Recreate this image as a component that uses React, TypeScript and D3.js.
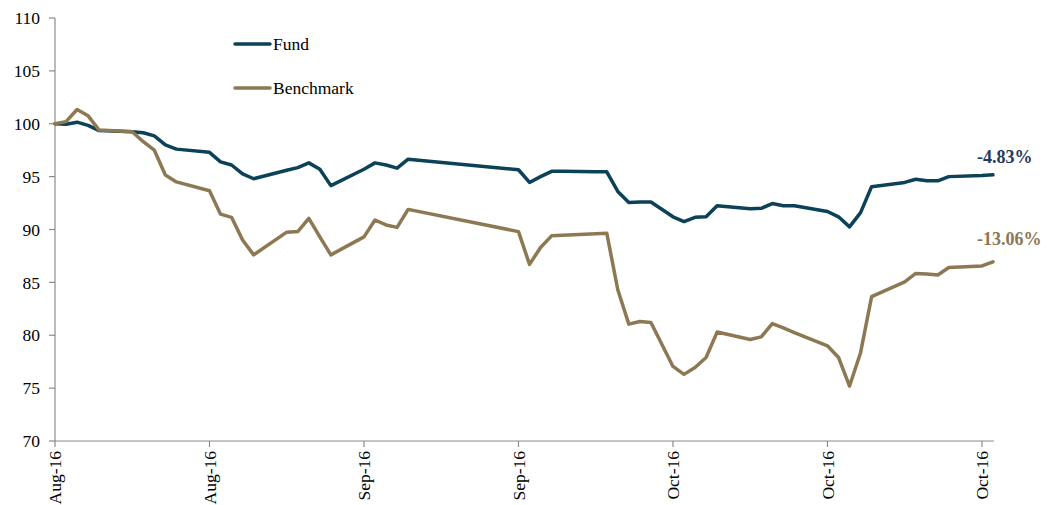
import React from "react";
import * as d3 from "d3";

// trading dates (Aug 8 2016 onward)
const dates = [
  "2016-08-08", "2016-08-09", "2016-08-10", "2016-08-11", "2016-08-12",
  "2016-08-15", "2016-08-16", "2016-08-17", "2016-08-18", "2016-08-19",
  "2016-08-22", "2016-08-23", "2016-08-24", "2016-08-25", "2016-08-26",
  "2016-08-29", "2016-08-30", "2016-08-31", "2016-09-01", "2016-09-02",
  "2016-09-05", "2016-09-06", "2016-09-07", "2016-09-08", "2016-09-09",
  "2016-09-19", "2016-09-20", "2016-09-21", "2016-09-22", "2016-09-23",
  "2016-09-26", "2016-09-27", "2016-09-28", "2016-09-29", "2016-09-30",
  "2016-10-01", "2016-10-03", "2016-10-04", "2016-10-05", "2016-10-06",
  "2016-10-07", "2016-10-10", "2016-10-11", "2016-10-12", "2016-10-13",
  "2016-10-14", "2016-10-17", "2016-10-18", "2016-10-19", "2016-10-20",
  "2016-10-21", "2016-10-24", "2016-10-25", "2016-10-26", "2016-10-27",
  "2016-10-28", "2016-10-31", "2016-11-01",
];

const fund = [
  100.0, 99.95, 100.15, 99.85, 99.35,
  99.25, 99.15, 98.85, 98.0, 97.6,
  97.3, 96.4, 96.1, 95.25, 94.8,
  95.6, 95.85, 96.3, 95.7, 94.15,
  95.7, 96.3, 96.1, 95.8, 96.65,
  95.65, 94.45, 95.0, 95.5, 95.5,
  95.45, 95.45, 93.6, 92.55, 92.6,
  92.6, 91.2, 90.75, 91.15, 91.2,
  92.25, 91.97, 92.0, 92.45, 92.25,
  92.25, 91.7, 91.2, 90.25, 91.6,
  94.05, 94.45, 94.75, 94.6, 94.6,
  95.0, 95.1, 95.17,
];

const benchmark = [
  100.0, 100.2, 101.35, 100.75, 99.4,
  99.25, 98.3, 97.5, 95.15, 94.5,
  93.67, 91.45, 91.15, 89.0, 87.6,
  89.75, 89.8, 91.05, 89.3, 87.6,
  89.3, 90.9, 90.43, 90.2, 91.9,
  89.8, 86.7, 88.3, 89.4, 89.45,
  89.6, 89.65, 84.3, 81.05, 81.3,
  81.2, 77.05, 76.3, 76.95, 77.9,
  80.3, 79.6, 79.85, 81.1, 80.7,
  80.25, 79.0, 77.9, 75.2, 78.35,
  83.65, 85.05, 85.85, 85.8, 85.7,
  86.4, 86.55, 86.94,
];

const yTicks = [70, 75, 80, 85, 90, 95, 100, 105, 110];
const xTickDates = ["2016-08-08", "2016-08-22", "2016-09-05", "2016-09-19", "2016-10-03", "2016-10-17", "2016-10-31"];
const seriesNames = ["Fund", "Benchmark"];
const endLabels = ["-4.83%", "-13.06%"];

const W = 1052;
const H = 505;
const FONT = "Liberation Serif, Times New Roman, DejaVu Serif, serif";
const AXIS = "#8c8c8c";
const lineColors = ["#0b4257", "#8c7853"];
const labelColors = ["#1f3a60", "#8c7853"];

const parse = d3.timeParse("%Y-%m-%d");

export default function App() {
  const x = d3.scaleTime()
    .domain([parse(dates[0])!, parse(dates[dates.length - 1])!])
    .range([55, 993]);
  const y = d3.scaleLinear().domain([70, 110]).range([441, 18]);
  const fmt = d3.timeFormat("%b-%y");

  const line = d3.line<number>()
    .x((_, i) => x(parse(dates[i])!))
    .y(d => y(d));

  const series = [fund, benchmark];
  const lastX = x(parse(dates[dates.length - 1])!);
  const txt = { fontFamily: FONT };

  return (
    <svg
      width={W}
      height={H}
      style={{ position: "absolute", left: 0, top: 0, background: "#fff", fontFamily: FONT }}
    >
      {/* y axis */}
      <line x1={55} x2={55} y1={y(110)} y2={y(70)} stroke={AXIS} strokeWidth={1.2} />
      {yTicks.map(t => (
        <g key={t}>
          <line x1={49} x2={55} y1={y(t)} y2={y(t)} stroke={AXIS} strokeWidth={1.2} />
          <text x={40} y={y(t)} dy="0.35em" textAnchor="end" fontSize={17.5} fill="#000" style={txt}>
            {t}
          </text>
        </g>
      ))}

      {/* x axis */}
      <line x1={55} x2={994} y1={y(70)} y2={y(70)} stroke={AXIS} strokeWidth={1.2} />
      {xTickDates.map(d => {
        const xx = x(parse(d)!);
        return (
          <g key={d}>
            <line x1={xx} x2={xx} y1={441} y2={447} stroke={AXIS} strokeWidth={1.2} />
            <text
              transform={`translate(${xx},451) rotate(-90)`}
              dy="0.35em"
              textAnchor="end"
              fontSize={17.5}
              fill="#000"
              style={txt}
            >
              {fmt(parse(d)!)}
            </text>
          </g>
        );
      })}

      {/* lines */}
      {series.map((s, i) => (
        <path
          key={seriesNames[i]}
          d={line(s) || ""}
          fill="none"
          stroke={lineColors[i]}
          strokeWidth={3.5}
          strokeLinejoin="round"
          strokeLinecap="round"
        />
      ))}

      {/* end labels */}
      {series.map((s, i) => (
        <text
          key={endLabels[i]}
          x={lastX - 16}
          y={y(s[s.length - 1]) - (i === 0 ? 12 : 17)}
          fontSize={18}
          fontWeight="bold"
          fill={labelColors[i]}
          style={txt}
        >
          {endLabels[i]}
        </text>
      ))}

      {/* legend */}
      {seriesNames.map((n, i) => (
        <g key={n} transform={`translate(235,${44 + i * 44})`}>
          <line x1={0} x2={35} y1={0} y2={0} stroke={lineColors[i]} strokeWidth={3.5} strokeLinecap="round" />
          <text x={38} y={0} dy="0.35em" fontSize={17.5} fill="#000" style={txt}>
            {n}
          </text>
        </g>
      ))}
    </svg>
  );
}
